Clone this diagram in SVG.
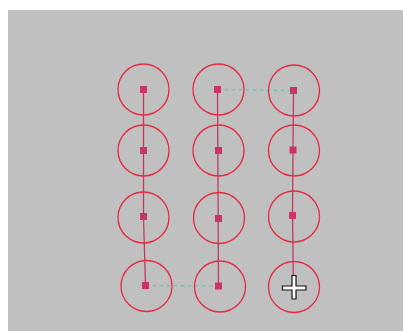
<svg xmlns="http://www.w3.org/2000/svg" width="403" height="331" viewBox="0 0 403 331">
<style>
.node circle{fill:none;stroke:#e8283f;stroke-width:1.3}
.node rect{fill:#cc3366}
.link{stroke:#c23a62;stroke-width:1.3;fill:none}
.dash{stroke:#6cc7aa;stroke-width:1.3;stroke-dasharray:4 3;fill:none}
.cursor{fill:#ffffff;stroke:#111111;stroke-width:1.2}
</style>
<rect x="0" y="0" width="403" height="331" fill="#ffffff"/>
<rect x="8" y="10" width="395" height="321" fill="#c0c0c0"/>
<g id="connectors">
<polyline class="link" points="143.5,89.5 143.5,151 143.5,217 145.5,285.5"/>
<line class="link" x1="217.5" y1="89.5" x2="218.5" y2="286"/>
<polyline class="link" points="293.5,90.5 293,150 292.5,215.5 293.5,288"/>
<line class="dash" x1="217.5" y1="89.5" x2="293.5" y2="90.5"/>
<line class="dash" x1="145.5" y1="285.5" x2="218.5" y2="286"/>
</g>
<g id="n11" class="node"><circle cx="143.5" cy="89.5" r="25.5"/><rect x="140" y="86" width="7" height="7"/></g>
<g id="n12" class="node"><circle cx="218.5" cy="89.5" r="25.5"/><rect x="214" y="86" width="7" height="7"/></g>
<g id="n13" class="node"><circle cx="294" cy="90.5" r="25.5"/><rect x="290" y="87" width="7" height="7"/></g>
<g id="n21" class="node"><circle cx="143.5" cy="150.5" r="25.5"/><rect x="140" y="147" width="7" height="7"/></g>
<g id="n22" class="node"><circle cx="218.5" cy="150.5" r="25.5"/><rect x="215" y="147" width="7" height="7"/></g>
<g id="n23" class="node"><circle cx="294" cy="150.5" r="25.5"/><rect x="289.5" y="146.5" width="7" height="7"/></g>
<g id="n31" class="node"><circle cx="143.5" cy="217.5" r="25.5"/><rect x="140" y="213" width="7" height="7"/></g>
<g id="n32" class="node"><circle cx="219" cy="218" r="25.5"/><rect x="215" y="215" width="7" height="7"/></g>
<g id="n33" class="node"><circle cx="294" cy="216.5" r="25.5"/><rect x="289" y="212" width="7" height="7"/></g>
<g id="n41" class="node"><circle cx="146.5" cy="286" r="25.5"/><rect x="142" y="282" width="7" height="7"/></g>
<g id="n42" class="node"><circle cx="220" cy="286.5" r="25.5"/><rect x="215" y="282.5" width="7" height="7"/></g>
<g id="n43" class="node"><circle cx="294" cy="287" r="25.5"/></g>
<path class="cursor" d="M292,275.5 h4 v10.5 h10 v4 h-10 v9 h-4 v-9 h-9.5 v-4 h9.5 z"/>
</svg>
